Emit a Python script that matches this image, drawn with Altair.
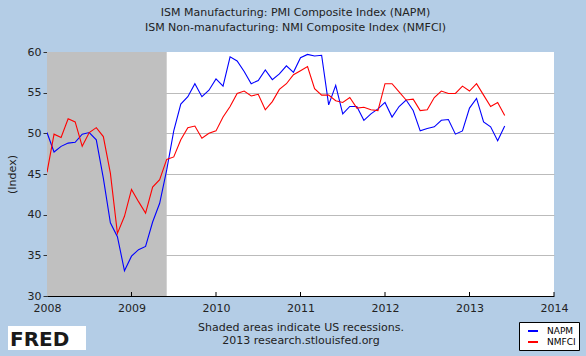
import altair as alt
import pandas as pd

# ---- data (monthly, Jan 2008 .. Jun 2013) ----
first_month = "2008-01-01"
napm = [50.1, 47.7, 48.4, 48.8, 48.9, 49.9, 50.1, 49.2, 44.5, 39.0, 37.3, 33.1,
        34.9, 35.7, 36.1, 39.1, 41.4, 45.5, 50.3, 53.6, 54.5, 56.1, 54.5, 55.3,
        56.7, 55.8, 59.4, 58.9, 57.6, 56.1, 56.5, 57.8, 56.6, 57.3, 58.3, 57.5,
        59.3, 59.7, 59.5, 59.6, 53.5, 55.9, 52.4, 53.3, 53.3, 51.6, 52.4, 53.0,
        53.8, 52.0, 53.3, 54.1, 52.8, 50.3, 50.6, 50.8, 51.6, 51.7, 49.9, 50.3,
        53.1, 54.3, 51.4, 50.8, 49.1, 50.9]
nmfci = [45.2, 49.9, 49.5, 51.8, 51.4, 48.4, 50.1, 50.7, 49.6, 45.1, 37.7, 39.8,
         43.1, 41.6, 40.2, 43.4, 44.3, 46.8, 47.1, 49.2, 50.7, 50.9, 49.4, 50.0,
         50.3, 52.0, 53.3, 54.9, 55.2, 54.6, 54.8, 52.9, 53.9, 55.4, 56.1, 57.2,
         57.7, 58.2, 55.5, 54.7, 54.7, 54.0, 53.8, 54.4, 53.1, 53.2, 52.9, 52.8,
         56.1, 56.1, 55.1, 54.1, 54.2, 52.8, 52.9, 54.4, 55.2, 54.9, 54.9, 55.8,
         55.2, 56.1, 54.7, 53.3, 53.8, 52.2]
series_names = ["NAPM", "NMFCI"]
series_colors = ["#0000ff", "#ff0000"]
recession_start = "2007-12-01"
recession_end = "2009-06-01"
year_ticks = [2008, 2009, 2010, 2011, 2012, 2013, 2014]
y_ticks = [30, 35, 40, 45, 50, 55, 60]
title_lines = ["ISM Manufacturing: PMI Composite Index (NAPM)",
               "ISM Non-manufacturing: NMI Composite Index (NMFCI)"]
footer_lines = ["Shaded areas indicate US recessions.",
                "2013 research.stlouisfed.org"]


def dec_year(d):
    d = pd.Timestamp(d)
    return d.year + (d.month - 1) / 12.0


dates = pd.date_range(first_month, periods=len(napm), freq="MS")
t = [dec_year(d) for d in dates]
df = pd.concat([
    pd.DataFrame({"t": t, "value": napm, "series": series_names[0]}),
    pd.DataFrame({"t": t, "value": nmfci, "series": series_names[1]}),
])
rec_df = pd.DataFrame({"t": [dec_year(recession_start)], "t2": [dec_year(recession_end)]})
tick_df = pd.DataFrame({"t": year_ticks[1:]})

W, H = 507, 244
FONT = "DejaVu Sans"
TXT = "#222222"

xscale = alt.Scale(domain=[2008, 2014], nice=False, zero=False)
yscale = alt.Scale(domain=[30, 60], nice=False, zero=False)

lines = alt.Chart(df).mark_line(strokeWidth=1.1, clip=True).encode(
    x=alt.X("t:Q", scale=xscale,
            axis=alt.Axis(values=year_ticks, format="d", tickSize=0, grid=False,
                          labelFlush=False, labelBound=False,
                          labelFontSize=11, labelFont=FONT, labelColor=TXT,
                          labelPadding=6, domainColor="#000000", domainWidth=1,
                          title=footer_lines, titleFont=FONT, titleFontSize=11,
                          titleFontWeight="normal", titleColor=TXT,
                          titlePadding=8, titleLineHeight=13)),
    y=alt.Y("value:Q", scale=yscale,
            axis=alt.Axis(values=y_ticks, tickSize=4, tickColor="#333333",
                          grid=True, gridColor="#bbbbbb", gridWidth=1,
                          gridOpacity={"condition": {"test": "datum.value === 60 || datum.value === 30", "value": 0}, "value": 1},
                          labelFontSize=11, labelFont=FONT, labelColor=TXT,
                          labelPadding=2, domainColor="#333333",
                          title="(Index)", titleFont=FONT, titleFontSize=11,
                          titleFontWeight="normal", titleColor=TXT,
                          titlePadding=10)),
    color=alt.Color("series:N",
                    scale=alt.Scale(domain=series_names, range=series_colors),
                    legend=alt.Legend(orient="none", legendX=472, legendY=270,
                                      title=None, fillColor="white",
                                      strokeColor="#000000", padding=3,
                                      symbolType="stroke", symbolSize=100,
                                      symbolStrokeWidth=2, symbolOffset=5,
                                      labelOffset=8, labelFontSize=9,
                                      labelFont=FONT, labelColor="#000000",
                                      rowPadding=0)),
    detail="series:N",
)

rec = alt.Chart(rec_df).mark_rect(color="#c0c0c0", clip=True).encode(
    x=alt.X("t:Q", scale=xscale), x2="t2:Q",
    y=alt.datum(60), y2=alt.datum(30),
)

ticks = alt.Chart(tick_df).mark_rule(color="#000000", strokeWidth=1).encode(
    x=alt.X("t:Q", scale=xscale),
    y=alt.value(H), y2=alt.value(H - 4),
)

logo_df = pd.DataFrame({"label": ["FRED"]})
logo_bg = alt.Chart(logo_df).mark_rect(color="white").encode(
    x=alt.value(-39), x2=alt.value(39), y=alt.value(274), y2=alt.value(298))
logo = alt.Chart(logo_df).mark_text(align="left", baseline="alphabetic",
                                    font=FONT, fontSize=20, fontWeight="bold",
                                    color="#1a1a1a").encode(
    text="label:N", x=alt.value(-37), y=alt.value(294))

chart = alt.layer(rec, lines, ticks, logo_bg, logo).properties(
    width=W, height=H,
    title=alt.TitleParams(text=title_lines, anchor="middle", fontSize=11,
                          fontWeight="normal", font=FONT, color=TXT,
                          lineHeight=15, offset=13, dx=-5),
    autosize=alt.AutoSizeParams(type="none"),
    padding={"left": 47, "top": 52, "right": 32, "bottom": 60},
).configure(background="#b4cde6").configure_view(fill="white", stroke=None)

chart.save("out.html", embed_options={"renderer": "svg", "actions": False})
